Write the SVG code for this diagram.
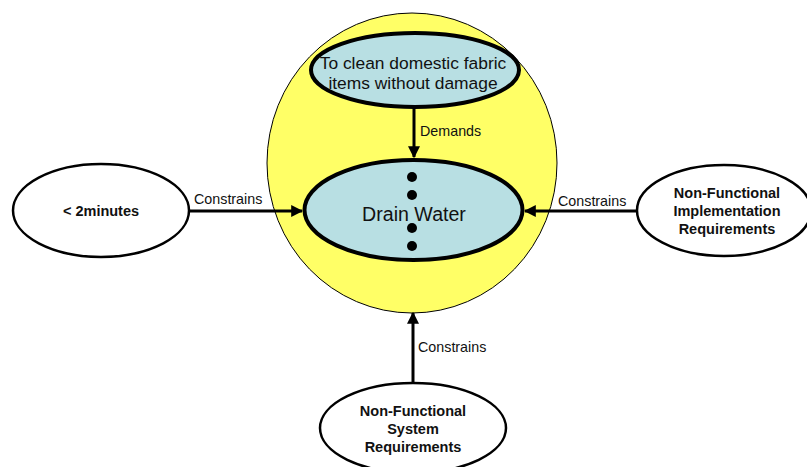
<svg xmlns="http://www.w3.org/2000/svg" width="807" height="467" viewBox="0 0 807 467">
<style>
.w{fill:#fff;stroke:#000;stroke-width:2.5}
.b{fill:#b8dfe3;stroke:#000;stroke-width:4}
.t{font-family:"Liberation Sans",Arial,sans-serif;fill:#111}
.bold{font-weight:bold;font-size:14.5px;text-anchor:middle}
.lbl{font-size:14.3px}
.c{stroke:#000;stroke-width:3;fill:none;marker-end:url(#ah)}
</style>
<defs>
<marker id="ah" viewBox="0 0 10 10" refX="9" refY="5" markerWidth="4" markerHeight="4" orient="auto" markerUnits="strokeWidth">
<path d="M0,0 L10,5 L0,10 z" fill="#000"/>
</marker>
</defs>
<rect width="807" height="467" fill="#fff"/>
<g id="scope"><ellipse cx="412" cy="163" rx="145" ry="150" fill="#ffff66" stroke="#000" stroke-width="1"/></g>
<g id="connectors">
<line class="c" x1="414" y1="107" x2="414" y2="157"/>
<line class="c" x1="189" y1="211" x2="302" y2="211"/>
<line class="c" x1="637" y1="211" x2="525" y2="211"/>
<line class="c" x1="413" y1="383" x2="413" y2="313"/>
<text class="t lbl" x="420" y="136">Demands</text>
<text class="t lbl" x="194" y="204">Constrains</text>
<text class="t lbl" x="558" y="206">Constrains</text>
<text class="t lbl" x="418" y="352">Constrains</text>
</g>
<g id="goal">
<ellipse class="b" cx="415" cy="70" rx="104" ry="37"/>
<text class="t" x="413" y="69" font-size="17.4" text-anchor="middle">To clean domestic fabric</text>
<text class="t" x="413" y="89" font-size="17.4" text-anchor="middle">items without damage</text>
</g>
<g id="drain">
<ellipse class="b" cx="413.5" cy="210" rx="109" ry="50"/>
<text class="t" x="414" y="221" font-size="19.6" text-anchor="middle">Drain Water</text>
<circle cx="412" cy="177" r="5"/>
<circle cx="412" cy="195" r="5"/>
<circle cx="412" cy="228" r="5"/>
<circle cx="412" cy="246" r="5"/>
</g>
<g id="time">
<ellipse class="w" cx="101" cy="210.5" rx="88" ry="46.5"/>
<text class="t bold" x="101" y="216">&lt; 2minutes</text>
</g>
<g id="impl">
<ellipse class="w" cx="724" cy="210.5" rx="87" ry="45.5"/>
<text class="t bold" x="727" y="198">Non-Functional</text>
<text class="t bold" x="727" y="216">Implementation</text>
<text class="t bold" x="727" y="234">Requirements</text>
</g>
<g id="sys">
<ellipse class="w" cx="413" cy="428" rx="93" ry="45"/>
<text class="t bold" x="413" y="416">Non-Functional</text>
<text class="t bold" x="413" y="434">System</text>
<text class="t bold" x="413" y="452">Requirements</text>
</g>
</svg>
